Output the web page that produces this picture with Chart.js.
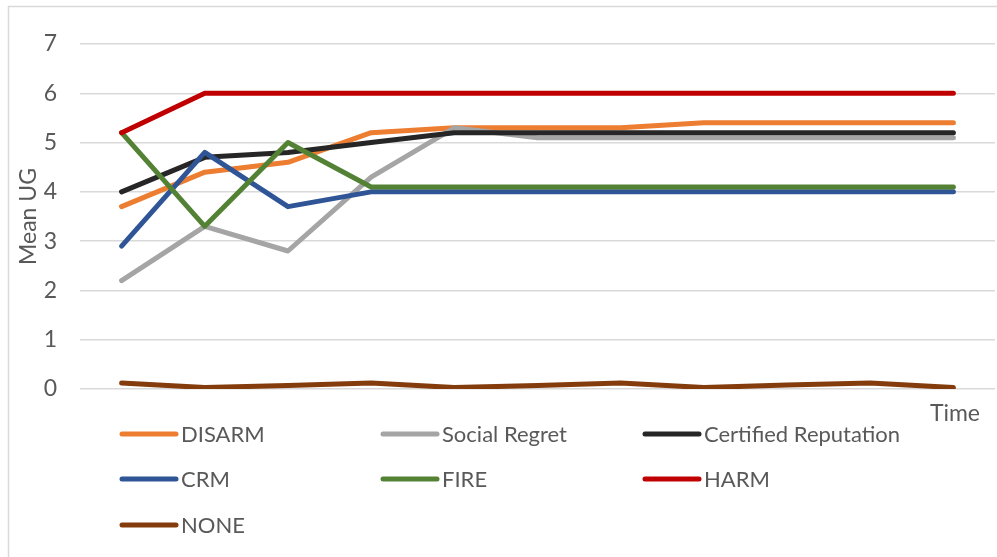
<!DOCTYPE html>
<html>
<head>
<meta charset="utf-8">
<script src="https://cdn.jsdelivr.net/npm/chart.js@4/dist/chart.umd.min.js"></script>
<style>
  html, body { margin: 0; padding: 0; background: #fff; }
  #wrap { width: 997px; height: 557px; position: relative; }
</style>
</head>
<body>
<div id="wrap"><canvas id="ugChart" width="997" height="557"></canvas></div>
<script>
// time steps (no labels shown on the axis)
const timeSteps = ['1', '2', '3', '4', '5', '6', '7', '8', '9', '10', '11']

const disarm = [3.7, 4.4, 4.6, 5.2, 5.3, 5.3, 5.3, 5.4, 5.4, 5.4, 5.4]
const socialRegret = [2.2, 3.3, 2.8, 4.3, 5.3, 5.1, 5.1, 5.1, 5.1, 5.1, 5.1]
const certifiedRep = [4.0, 4.7, 4.8, 5.0, 5.2, 5.2, 5.2, 5.2, 5.2, 5.2, 5.2]
const crm = [2.9, 4.8, 3.7, 4.0, 4.0, 4.0, 4.0, 4.0, 4.0, 4.0, 4.0]
const fire = [5.2, 3.3, 5.0, 4.1, 4.1, 4.1, 4.1, 4.1, 4.1, 4.1, 4.1]
const harm = [5.2, 6.0, 6.0, 6.0, 6.0, 6.0, 6.0, 6.0, 6.0, 6.0, 6.0]
const none = [0.12, 0.03, 0.07, 0.12, 0.03, 0.07, 0.12, 0.03, 0.08, 0.12, 0.03]

const yTicks = [0, 1, 2, 3, 4, 5, 6, 7]

const textColor = '#595959'
const gridColor = '#d9d9d9'
const fontFamily = 'Lato, "Open Sans", sans-serif'

const series = [
    { label: 'DISARM', data: disarm, color: '#ed7d31' },
    { label: 'Social Regret', data: socialRegret, color: '#a5a5a5' },
    { label: 'Certified Reputation', data: certifiedRep, color: '#262626' },
    { label: 'CRM', data: crm, color: '#2f5597' },
    { label: 'FIRE', data: fire, color: '#548235' },
    { label: 'HARM', data: harm, color: '#c00000' },
    { label: 'NONE', data: none, color: '#843c0c' },
]

// frame, bottom legend and the "Time" label
const extrasPlugin = {
    id: 'extras',
    beforeDraw(chart) {
        const ctx = chart.ctx
        ctx.save()
        ctx.strokeStyle = gridColor
        ctx.lineWidth = 1.5
        ctx.beginPath()
        ctx.moveTo(8.5, 557)
        ctx.lineTo(8.5, 6.5)
        ctx.lineTo(997, 6.5)
        ctx.stroke()
        ctx.restore()
    },
    afterDraw(chart) {
        const ctx = chart.ctx
        const colX = [122, 383, 645]
        const rowY = [434, 479, 525]
        ctx.save()
        ctx.font = '22px ' + fontFamily
        ctx.textBaseline = 'middle'
        chart.data.datasets.forEach((ds, i) => {
            const x = colX[i % 3]
            const y = rowY[Math.floor(i / 3)]
            ctx.strokeStyle = ds.borderColor
            ctx.lineWidth = 5
            ctx.lineCap = 'round'
            ctx.beginPath()
            ctx.moveTo(x, y)
            ctx.lineTo(x + 54, y)
            ctx.stroke()
            ctx.fillStyle = textColor
            ctx.textAlign = 'left'
            ctx.fillText(ds.label, x + 59, y + 1)
        })
        ctx.font = '23px ' + fontFamily
        ctx.textAlign = 'right'
        ctx.fillText('Time', 980, 414)
        ctx.restore()
    }
}

const ctx = document.getElementById('ugChart')
new Chart(ctx, {
    type: 'line',
    data: {
        labels: timeSteps,
        datasets: series.map((s, i) => ({
            label: s.label,
            data: s.data,
            borderColor: s.color,
            backgroundColor: s.color,
            borderWidth: 5,
            borderCapStyle: 'round',
            borderJoinStyle: 'round',
            pointRadius: 0,
            tension: 0,
            order: -i,
        }))
    },
    options: {
        responsive: false,
        animation: false,
        devicePixelRatio: 1,
        layout: { padding: { left: 0, right: 2, top: 44, bottom: 0 } },
        scales: {
            x: {
                type: 'category',
                offset: true,
                grid: { display: false },
                border: { display: false },
                ticks: { display: false },
                afterFit: (scale) => { scale.height = 557 - 389 },
            },
            y: {
                min: 0,
                max: 7,
                afterBuildTicks: (scale) => { scale.ticks = yTicks.map(v => ({ value: v })) },
                grid: { color: gridColor, lineWidth: 1.5, drawTicks: false },
                border: { display: false },
                ticks: {
                    color: textColor,
                    font: { family: fontFamily, size: 23 },
                    padding: 23,
                },
                title: {
                    display: true,
                    text: 'Mean UG',
                    color: textColor,
                    font: { family: fontFamily, size: 23 },
                    padding: { top: 15, bottom: 0 },
                },
                afterFit: (scale) => { scale.width = 80 },
            }
        },
        plugins: {
            legend: { display: false },
            tooltip: { enabled: false },
        },
    },
    plugins: [extrasPlugin]
})
</script>
</body>
</html>
